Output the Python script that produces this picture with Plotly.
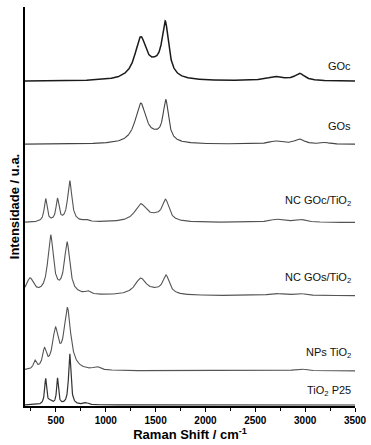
import numpy as np
import plotly.graph_objects as go

# Raman shift grid (cm-1)
shift = np.arange(190, 3501, 2)

# Spectra: baseline offset and peaks (center cm-1, height, FWHM)
names = ["GOc", "GOs", "NC GOc/TiO<sub>2</sub>", "NC GOs/TiO<sub>2</sub>", "NPs TiO<sub>2</sub>", "TiO<sub>2</sub> P25"]
baselines = [324, 261, 183, 110, 35, 1]

goc_centers = [1350, 1500, 1597, 2700, 2945]
goc_heights = [40, 10, 52, 4, 7]
goc_widths = [140, 200, 80, 220, 120]

gos_centers = [1350, 1500, 1602, 2700, 2940, 3200]
gos_heights = [39, 5, 40, 3, 5, 1.5]
gos_widths = [130, 200, 65, 150, 120, 100]

ncgoc_centers = [397, 516, 639, 800, 1350, 1500, 1600, 2710, 2945]
ncgoc_heights = [23, 22, 41, 2, 17, 4, 20, 3, 3]
ncgoc_widths = [34, 36, 50, 60, 140, 200, 80, 160, 140]

ncgos_centers = [240, 447, 612, 820, 1350, 1500, 1605, 2700, 2940]
ncgos_heights = [16, 58, 51, 3, 16, 3, 18, 2, 2]
ncgos_widths = [90, 66, 66, 60, 140, 200, 80, 160, 140]

nps_centers = [290, 385, 495, 615, 910, 2950]
nps_heights = [8, 18, 37, 60, 3, 2]
nps_widths = [35, 45, 70, 80, 80, 140]

p25_centers = [397, 445, 516, 639, 800]
p25_heights = [26, 3, 26, 51, 2]
p25_widths = [24, 40, 22, 28, 60]

centers = [goc_centers, gos_centers, ncgoc_centers, ncgos_centers, nps_centers, p25_centers]
heights = [goc_heights, gos_heights, ncgoc_heights, ncgos_heights, nps_heights, p25_heights]
widths = [goc_widths, gos_widths, ncgoc_widths, ncgos_widths, nps_widths, p25_widths]

tick_vals = [500, 1000, 1500, 2000, 2500, 3000, 3500]
minor_vals = [250, 750, 1250, 1750, 2250, 2750, 3250]

colors = ["#1a1a1a", "#444444", "#555555", "#555555", "#555555", "#333333"]
lw = [1.5, 1.1, 1.1, 1.1, 1.1, 1.2]
label_y = [339, 279, 204, 128, 53, 15]


def spectrum(c, h, w):
    y = np.zeros_like(shift, dtype=float)
    for cc, hh, ww in zip(c, h, w):
        y += hh / (1 + ((shift - cc) / (ww / 2)) ** 2)
    return y


fig = go.Figure()
for i in range(len(names)):
    y = baselines[i] + spectrum(centers[i], heights[i], widths[i])
    fig.add_trace(go.Scatter(x=shift, y=y, mode="lines",
                             line=dict(color=colors[i], width=lw[i]),
                             showlegend=False, hoverinfo="skip"))
    fig.add_annotation(x=3480, y=label_y[i], text=names[i], showarrow=False,
                       xanchor="right", yanchor="middle",
                       font=dict(family="Liberation Sans, Arial", size=11, color="#111111"))

fig.update_layout(
    width=371, height=445,
    margin=dict(l=25, r=16, t=7, b=39),
    paper_bgcolor="white", plot_bgcolor="white",
    font=dict(family="Liberation Sans, Arial", color="black"),
    xaxis=dict(range=[190, 3500], showgrid=False, zeroline=False, automargin=False,
               showline=True, linecolor="black", linewidth=2,
               ticks="outside", ticklen=4, tickwidth=1.2, tickcolor="black",
               tickmode="array", tickvals=tick_vals,
               tickfont=dict(size=10, family="Liberation Sans, Arial", weight="bold"),
               minor=dict(tickvals=minor_vals,
                          ticks="outside", ticklen=3, tickcolor="black", tickwidth=1),
               title=dict(text="Raman Shift / cm<sup>-1</sup>",
                          font=dict(size=13, weight="bold"), standoff=0)),
    yaxis=dict(range=[0, 398], showgrid=False, zeroline=False, automargin=False,
               showline=True, linecolor="black", linewidth=2,
               showticklabels=False, ticks="",
               title=dict(text="Intensidade / u.a.",
                          font=dict(size=13, weight="bold"), standoff=0)),
)

fig.write_html("out.html", config={"displayModeBar": False},
               post_script="document.body.style.margin='0';document.body.style.padding='0';")
